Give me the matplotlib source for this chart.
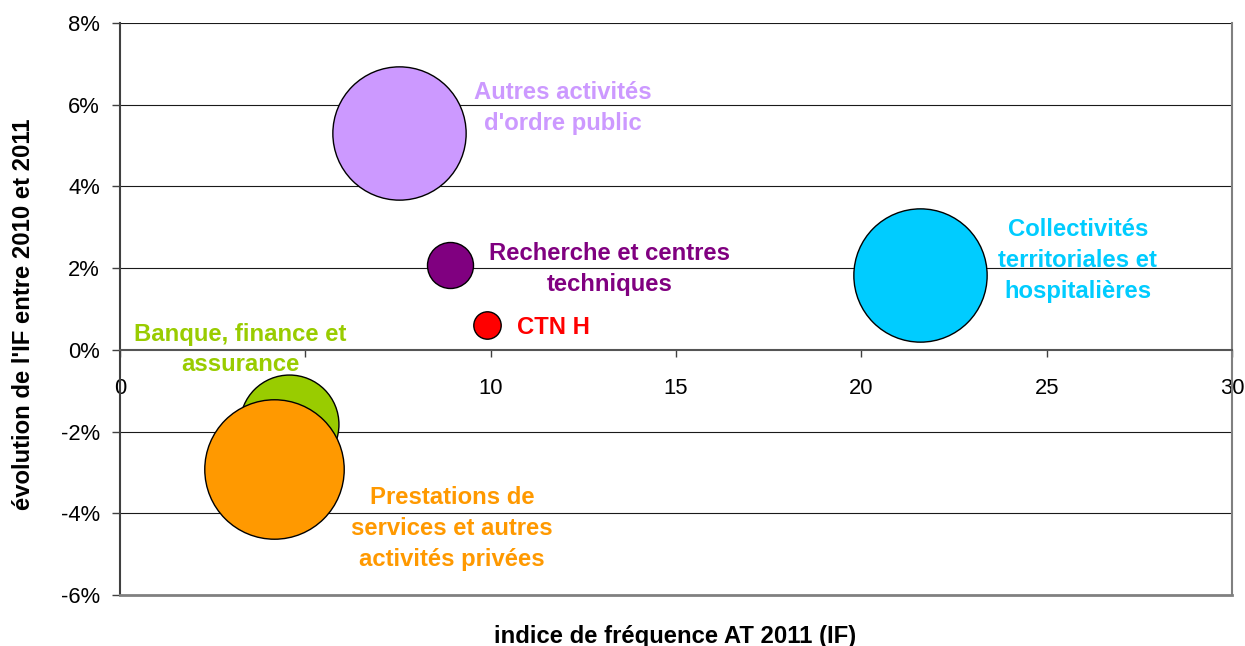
import matplotlib
matplotlib.use("Agg")
import matplotlib.pyplot as plt
from matplotlib.ticker import PercentFormatter, MultipleLocator

plt.rcParams["font.family"] = ["Liberation Sans", "DejaVu Sans"]
plt.rcParams["axes.unicode_minus"] = False

# donnees
secteurs = [
    "Autres activités\nd'ordre public",
    "Recherche et centres\ntechniques",
    "CTN H",
    "Collectivités\nterritoriales et\nhospitalières",
    "Banque, finance et\nassurance",
    "Prestations de\nservices et autres\nactivités privées",
]
indice_frequence = [7.53, 8.90, 9.89, 21.58, 4.57, 4.15]
evolution_if = [0.0530, 0.0207, 0.0061, 0.0183, -0.0181, -0.0292]
taille_bulle = [4450, 530, 188, 4450, 2450, 4870]
couleurs = ["#CC99FF", "#800080", "#FF0000", "#00CCFF", "#99CC00", "#FF9900"]

# position des etiquettes (centre du bloc de texte)
etiquette_xy = [
    (11.94, 0.0598),
    (13.21, 0.0204),
    (10.70, 0.0059),
    (25.84, 0.0225),
    (3.24, 0.0006),
    (8.96, -0.0433),
]
etiquette_ha = ["center", "center", "left", "center", "center", "center"]

fig = plt.figure(figsize=(12.45, 6.46), dpi=100)
ax = fig.add_axes([120 / 1245, 51 / 646, 1112 / 1245, 572 / 646])

ax.set_xlim(0, 30)
ax.set_ylim(-0.06, 0.08)

# quadrillage horizontal sous les bulles
for yv in [-0.04, -0.02, 0.02, 0.04, 0.06, 0.08]:
    ax.axhline(yv, color="#1a1a1a", lw=0.8, zorder=0)

# bulles
for x, y, t, c in zip(indice_frequence, evolution_if, taille_bulle, couleurs):
    ax.scatter(x, y, s=2.07 * t, color=c, edgecolors="black", linewidths=1.0, zorder=2)

# etiquettes, ligne par ligne
fs = 17.2
for txt, (lx, ly), ha, c in zip(secteurs, etiquette_xy, etiquette_ha, couleurs):
    lignes = txt.split("\n")
    n = len(lignes)
    for i, ligne in enumerate(lignes):
        dy = -(i - (n - 1) / 2) * 22.3 - 0.36 * fs
        ax.annotate(ligne, (lx, ly), xytext=(0, dy), textcoords="offset points",
                    ha=ha, va="baseline", color=c, fontsize=fs,
                    fontweight="bold", zorder=4)

# axes
ax.spines["top"].set_visible(False)
ax.spines["bottom"].set_position(("data", 0))
ax.spines["bottom"].set_color("#555555")
ax.spines["bottom"].set_linewidth(1.5)
ax.spines["left"].set_color("#404040")
ax.spines["left"].set_linewidth(1.5)
ax.spines["right"].set_color("#808080")
ax.spines["right"].set_linewidth(1.5)
ax.axhline(-0.06, color="#808080", lw=2.0, zorder=2.6, clip_on=False)

ax.xaxis.set_major_locator(MultipleLocator(5))
ax.yaxis.set_major_locator(MultipleLocator(0.02))
ax.yaxis.set_major_formatter(PercentFormatter(1.0, decimals=0))
ax.tick_params(axis="x", direction="out", length=5, width=1, color="#404040",
               pad=15, labelsize=15.8)
ax.tick_params(axis="y", direction="out", length=5.8, width=1, color="#404040",
               pad=8.6, labelsize=15.8)

ax.set_xlabel("indice de fréquence AT 2011 (IF)", fontsize=fs, fontweight="bold",
              va="top")
ax.xaxis.set_label_coords(0.499, -0.053)
ax.set_ylabel("évolution de l'IF entre 2010 et 2011", fontsize=fs, fontweight="bold")
ax.yaxis.set_label_coords(-0.0765, 0.49)

fig.savefig("out.png", dpi=100)
